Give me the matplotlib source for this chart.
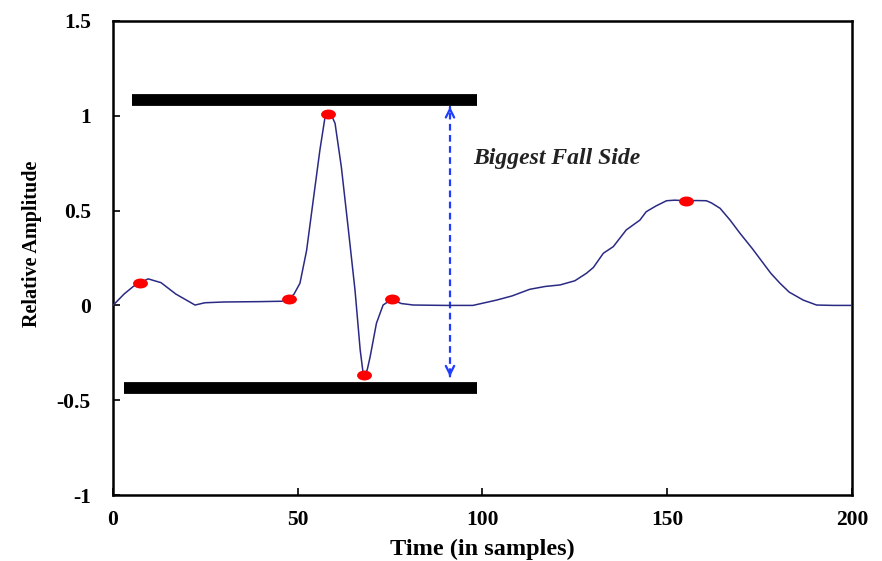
import matplotlib
matplotlib.use('Agg')
import matplotlib.pyplot as plt
from matplotlib.path import Path
from matplotlib.transforms import Affine2D

# signal
t = [0, 3, 5.5, 7.3, 9.5, 13, 17, 22.2, 24.9, 30, 40, 45.7, 47.5, 49, 50.6, 52.4, 54.2, 56,
     57.4, 58.3, 59.2, 60.1, 61.8, 63.7, 65.5, 66.9, 67.7, 68, 68.8, 69.6, 71.3, 73.1,
     75.4, 78, 81.3, 90, 97.4, 103.8, 108, 112.8, 117, 121, 125, 128.1, 130, 132.7,
     135.4, 138.9, 142.6, 144.3, 147, 149.8, 152, 155.2, 158, 160.6, 162, 164.3, 167,
     169.7, 173, 176, 178, 180.5, 183, 186.8, 190.4, 195, 200]
amp = [0, 0.06, 0.1, 0.118, 0.14, 0.12, 0.06, 0.002, 0.014, 0.018, 0.02, 0.022, 0.032, 0.06,
       0.117, 0.29, 0.556, 0.82, 0.995, 1.01, 1.0, 0.96, 0.73, 0.40, 0.08, -0.235, -0.358,
       -0.367, -0.34, -0.27, -0.094, 0.002, 0.032, 0.01, 0.002, 0.0, 0.0, 0.028, 0.05,
       0.085, 0.1, 0.108, 0.13, 0.169, 0.2, 0.275, 0.31, 0.398, 0.45, 0.494, 0.525, 0.552,
       0.555, 0.552, 0.553, 0.552, 0.54, 0.512, 0.45, 0.38, 0.3, 0.222, 0.17, 0.117, 0.07,
       0.028, 0.002, 0.0, 0.0]

# red peak / valley markers
mark_t = [7.3, 47.5, 58.3, 68, 75.4, 155.2]
mark_amp = [0.118, 0.032, 1.01, -0.367, 0.032, 0.552]

# black level bars and arrow
bar_top = (5.1, 98.5, 1.083)
bar_bottom = (3.0, 98.5, -0.436)
arrow_x = 91.2
arrow_top = 1.048
arrow_bottom = -0.376

plt.rcParams['font.family'] = ['Liberation Serif', 'DejaVu Serif']

fig = plt.figure(figsize=(8.82, 5.61), dpi=100)
ax = fig.add_axes([0.1281, 0.1176, 0.8379, 0.845])

ax.plot(t, amp, color='#2a2a85', lw=1.1, zorder=3)

ell = Path.unit_circle().transformed(Affine2D().scale(1.5, 1.0))
ax.scatter(mark_t, mark_amp, marker=ell, s=115, color='#ff0000', zorder=4, linewidths=0)

ax.plot(bar_top[:2], [bar_top[2]] * 2, color='black', lw=8.5, solid_capstyle='butt', zorder=2)
ax.plot(bar_bottom[:2], [bar_bottom[2]] * 2, color='black', lw=8.5, solid_capstyle='butt', zorder=2)

# dashed double arrow
blue = '#1f3cff'
ax.plot([arrow_x, arrow_x], [arrow_bottom + 0.01, arrow_top - 0.01], color=blue, lw=1.6,
        ls=(0, (3, 2)), zorder=2)
ax.annotate('', xy=(arrow_x, arrow_top), xytext=(arrow_x, arrow_top - 0.005),
            arrowprops=dict(arrowstyle='->,head_length=0.6,head_width=0.3', color=blue, lw=1.6))
ax.annotate('', xy=(arrow_x, arrow_bottom), xytext=(arrow_x, arrow_bottom + 0.005),
            arrowprops=dict(arrowstyle='->,head_length=0.6,head_width=0.3', color=blue, lw=1.6))

ax.text(97.4, 0.777, 'Biggest Fall Side', fontsize=17, fontweight='bold', fontstyle='italic',
        va='center', ha='left', color='#222222')

ax.set_xlim(0, 200)
ax.set_ylim(-1, 1.5)
ax.set_xticks([0, 50, 100, 150, 200])
ax.set_yticks([-1, -0.5, 0, 0.5, 1, 1.5])
ax.set_xticklabels(['0', '50', '100', '150', '200'])
ax.set_yticklabels(['-1', '-0.5', '0', '0.5', '1', '1.5'])
ax.tick_params(direction='in', length=5, width=1.2, labelsize=15.5, pad=11)
ax.tick_params(axis='y', pad=16)
for lab in ax.get_xticklabels() + ax.get_yticklabels():
    lab.set_fontweight('bold')
for s in ax.spines.values():
    s.set_linewidth(1.8)

ax.set_xlabel('Time (in samples)', fontsize=17.5, fontweight='bold', labelpad=6)
ax.set_ylabel('Relative Amplitude', fontsize=14.5, fontweight='bold')
ax.yaxis.set_label_coords(-0.096, 0.53)

fig.savefig('out.png', dpi=100)
